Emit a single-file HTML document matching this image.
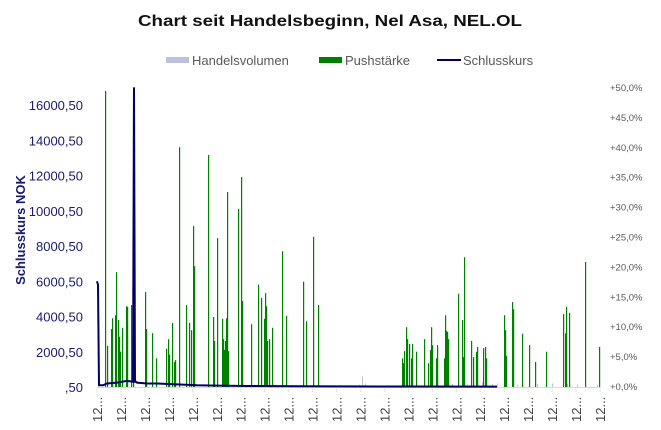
<!DOCTYPE html>
<html><head><meta charset="utf-8"><style>
body{margin:0;background:#fff;}
svg{display:block;font-family:"Liberation Sans",sans-serif;}
</style></head><body>
<svg id="chart" width="661" height="430" viewBox="0 0 661 430">
<text x="138" y="26" textLength="384" lengthAdjust="spacingAndGlyphs" font-size="16" font-weight="bold" fill="#111">Chart seit Handelsbeginn, Nel Asa, NEL.OL</text>
<g font-size="13" fill="#595959">
<g><rect x="166" y="57" width="23" height="6" fill="#bfbfdf"/><text x="192" y="65">Handelsvolumen</text></g>
<g><rect x="319" y="57" width="23" height="6" fill="#008000"/><text x="345" y="65">Pushstärke</text></g>
<g><line x1="437" y1="60" x2="461" y2="60" stroke="#000066" stroke-width="2"/><text x="463" y="65">Schlusskurs</text></g>
</g>
<text transform="translate(25,230) rotate(-90)" text-anchor="middle" font-size="13" font-weight="bold" fill="#1a1a6e">Schlusskurs NOK</text>
<g id="leftTicks"></g>
<g id="rightTicks"></g>
<g id="xTicks"></g>
<g id="vol"></g>
<g id="push"></g>
<g id="close"></g>
</svg>
<script>
const leftTickValues=[0.5,2000.5,4000.5,6000.5,8000.5,10000.5,12000.5,14000.5,16000.5];
const leftTickLabels=[",50","2000,50","4000,50","6000,50","8000,50","10000,50","12000,50","14000,50","16000,50"];
const rightTickValues=[0,5,10,15,20,25,30,35,40,45,50];
const rightTickLabels=["+0,0%","+5,0%","+10,0%","+15,0%","+20,0%","+25,0%","+30,0%","+35,0%","+40,0%","+45,0%","+50,0%"];
const xTickCount=22;
const pushDays=[8,10,14,15,18,19,21,22,23,25,29,30,34,36,48,49,55,59,69,71,72,75,77,78,82,89,92,94,96,97,111,116,117,120,125,126,127,128,129,130,131,141,144,145,154,161,164,167,168,169,170,172,175,185,189,206,209,216,221,305,306,307,309,310,312,314,315,319,327,331,333,334,335,339,340,347,348,349,350,351,361,365,366,367,374,376,379,380,386,388,389,407,408,409,415,416,425,432,438,449,466,468,469,472,488,502];
const pushPct=[49.5,6.9,9.7,11.5,12,19.2,11.2,8.4,5.9,9.9,13.5,13.4,13.7,5.9,15.9,9.7,9,4.8,6.4,8,5.4,10.7,4.2,4.5,40.1,13.7,10.7,9.5,26.9,20.2,38.8,11.7,7.7,24.9,11.4,8,6.2,7.7,11.5,32.6,6,29.8,35.1,14.4,10.5,17.1,14.9,11.4,15.7,13.5,7.7,8,9.9,22.7,11.9,17.6,11,25.1,13.7,4.8,4,6,10,8,7.2,4.8,7.2,5.9,8,4,6.2,10,7,4.8,7,4.8,12,9.4,9.2,8,15.6,11.2,5,21.7,7.7,5,5.9,6.7,6.5,6.7,4.8,12,9.5,5.2,14.2,13,8.9,7,4.2,5.9,12.2,9,13.4,12.4,20.9,6.7];
const volDays=[262,265,268,300,355,370,385,395,400,420,440,455,470,480,500];
const volPct=[0.4,1.8,0.6,0.3,0.5,0.4,0.8,0.5,0.6,0.4,0.5,0.6,0.5,0.4,0.4];
const closeDays=[0,1,2,3,6,10,20,30,36,37,38,39,40,50,60,80,100,120,150,200,300,400];
const closeVals=[6000,5800,100,100,100,200,250,350,300,17000,300,300,250,200,200,150,100,80,60,40,30,25];
const X0=97,X1=600,Y0=387,DAYS=503;
const ns="http://www.w3.org/2000/svg";
function xs(d){return X0+d/DAYS*(X1-X0);}
function yl(v){return Y0-(v-0.5)/2000*35.25;}
function yr(p){return Y0-p/50*299;}
function mk(tag,attrs,parent){const e=document.createElementNS(ns,tag);for(const k in attrs)e.setAttribute(k,attrs[k]);parent.appendChild(e);return e;}
const L=document.getElementById('leftTicks');
leftTickValues.forEach((v,i)=>{const t=mk('text',{x:83,y:yl(v)+5,'text-anchor':'end','font-size':'13',fill:'#1a1a6e'},L);


t.textContent=leftTickLabels[i];});
const R=document.getElementById('rightTicks');
rightTickValues.forEach((v,i)=>{const t=mk('text',{x:610,y:yr(v)+3,'font-size':'9.5',fill:'#595959'},R);


t.textContent=rightTickLabels[i];});
const XT=document.getElementById('xTicks');
mk('line',{x1:X0,y1:Y0+0.5,x2:X1,y2:Y0+0.5,stroke:'#d9d9d9'},XT);
for(let i=0;i<xTickCount;i++){const x=X0+i*(X1-X0)/(xTickCount-1);
mk('line',{x1:x,y1:Y0,x2:x,y2:Y0+5,stroke:'#d0d0d0','stroke-dasharray':'1,1'},XT);
const t=mk('text',{transform:`translate(${x+5},${Y0+35}) rotate(-90)`,'font-size':'13',fill:'#404040'},XT);


t.textContent='12...';}
const V=document.getElementById('vol');
volDays.forEach((d,i)=>{const r=mk('rect',{x:xs(d),y:yr(volPct[i]),width:1,height:Y0-yr(volPct[i]),fill:'#bfbfdf'},V);

});
const P=document.getElementById('push');
pushDays.forEach((d,i)=>{const r=mk('rect',{x:xs(d),y:yr(pushPct[i]),width:1.2,height:Y0-yr(pushPct[i]),fill:'#008000'},P);

});
const C=document.getElementById('close');
const pl=mk('polyline',{points:closeDays.map((d,i)=>xs(d)+','+yl(closeVals[i])).join(' '),fill:'none',stroke:'#000066','stroke-width':'2'},C);


</script>
</body></html>
